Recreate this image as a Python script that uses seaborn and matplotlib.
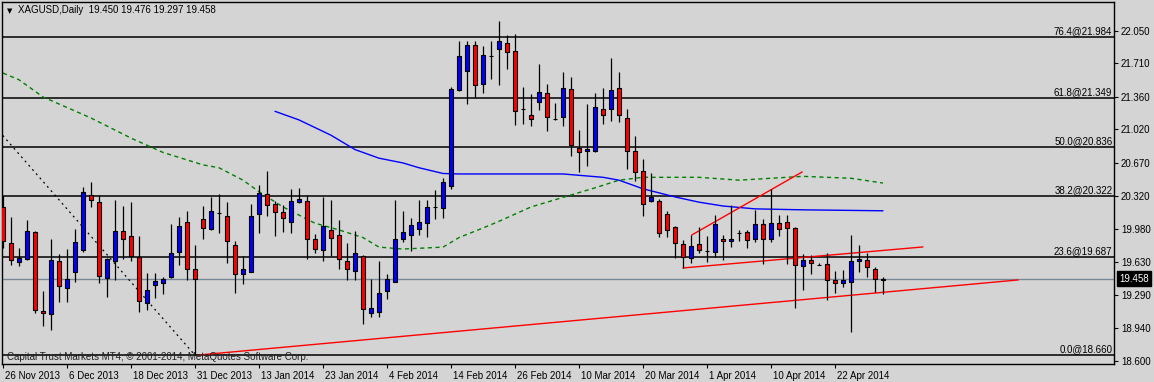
import numpy as np
import pandas as pd
import matplotlib
matplotlib.use("Agg")
import matplotlib.pyplot as plt
import matplotlib.transforms as mtransforms
import seaborn as sns

''' Data read off the chart (XAGUSD daily, one row per bar) '''
opens = [20.21, 19.83, 19.63, 19.67, 19.95, 19.12, 19.09, 19.65, 19.36, 19.53,
         19.76, 20.34, 20.26, 19.47, 19.64, 19.96, 19.91, 19.69, 19.21, 19.39,
         19.42, 19.48, 19.74, 20.05, 19.56, 20.08, 19.98, 20.15, 20.12, 19.81,
         19.51, 19.53, 20.14, 20.35, 20.24, 20.16, 20.05, 20.26, 20.27, 19.87,
         19.76, 19.97, 19.92, 19.65, 19.54, 19.70, 19.10, 19.11, 19.33, 19.43,
         19.88, 19.92, 19.98, 20.04, 20.21, 20.20, 20.43, 21.43, 21.63, 21.90,
         21.50, 21.79, 21.86, 21.92, 21.84, 21.23, 21.17, 21.31, 21.40, 21.13,
         21.15, 21.44, 20.83, 20.79, 20.80, 21.23, 21.23, 21.45, 21.14, 20.80,
         20.59, 20.27, 20.27, 20.14, 20.00, 19.82, 19.68, 19.82, 19.75, 19.74,
         19.88, 19.85, 19.94, 19.95, 19.87, 20.03, 19.88, 20.04, 20.05, 19.99,
         19.59, 19.66, 19.60, 19.61, 19.45, 19.41, 19.43, 19.65, 19.66, 19.56,
         19.450]
highs = [20.32, 20.11, 19.78, 20.07, 19.96, 19.33, 19.88, 19.72, 19.77, 19.98,
         20.42, 20.47, 20.34, 19.68, 20.28, 20.22, 20.26, 19.91, 19.52, 19.52,
         19.48, 20.03, 20.11, 20.17, 19.81, 20.22, 20.31, 20.35, 20.26, 19.85,
         19.70, 20.24, 20.44, 20.59, 20.27, 20.23, 20.40, 20.41, 20.33, 19.93,
         20.31, 20.28, 20.07, 19.83, 19.96, 19.71, 19.46, 19.64, 19.51, 20.28,
         20.17, 20.09, 20.28, 20.28, 20.39, 20.51, 21.46, 21.95, 21.95, 21.95,
         21.89, 21.94, 22.15, 22.01, 22.02, 21.46, 21.39, 21.70, 21.50, 21.30,
         21.62, 21.57, 21.01, 21.29, 21.40, 21.45, 21.77, 21.62, 21.23, 20.95,
         20.71, 20.57, 20.29, 20.17, 20.01, 19.86, 19.92, 20.00, 19.91, 20.13,
         19.92, 20.23, 19.97, 19.97, 20.18, 20.08, 20.40, 20.13, 20.13, 20.00,
         19.72, 19.71, 19.62, 19.73, 19.54, 19.55, 19.92, 19.81, 19.73, 19.58,
         19.476]
lows = [19.78, 19.60, 19.59, 19.66, 19.10, 18.97, 18.92, 19.22, 19.22, 19.43,
        19.74, 20.21, 19.41, 19.27, 19.45, 19.67, 19.65, 19.11, 19.13, 19.26,
        19.30, 19.47, 19.60, 19.45, 18.66, 19.87, 19.97, 19.94, 19.62, 19.31,
        19.40, 19.53, 19.94, 20.12, 19.91, 19.95, 19.94, 20.25, 19.67, 19.73,
        19.64, 19.70, 19.56, 19.45, 19.45, 18.99, 19.06, 19.06, 19.25, 19.43,
        19.84, 19.75, 19.92, 19.90, 20.08, 20.09, 20.40, 21.42, 21.29, 21.35,
        21.40, 21.55, 21.49, 21.65, 21.07, 21.08, 21.06, 21.22, 21.00, 21.12,
        21.06, 20.74, 20.58, 20.64, 20.78, 21.08, 21.11, 21.10, 20.61, 20.48,
        20.12, 20.26, 19.90, 19.90, 19.68, 19.57, 19.62, 19.73, 19.63, 19.69,
        19.66, 19.79, 19.85, 19.78, 19.84, 19.61, 19.84, 19.91, 19.61, 19.15,
        19.34, 19.51, 19.60, 19.24, 19.31, 19.37, 18.90, 19.53, 19.48, 19.32,
        19.297]
closes = [19.85, 19.66, 19.68, 19.96, 19.13, 19.10, 19.66, 19.38, 19.46, 19.84,
          20.37, 20.28, 19.49, 19.67, 19.96, 19.88, 19.70, 19.23, 19.34, 19.44,
          19.46, 19.73, 20.01, 19.56, 19.46, 19.99, 20.17, 20.15, 19.85, 19.51,
          19.56, 20.12, 20.36, 20.23, 20.16, 20.09, 20.27, 20.29, 19.87, 19.77,
          20.01, 19.89, 19.67, 19.56, 19.73, 19.14, 19.15, 19.31, 19.46, 19.87,
          19.95, 20.02, 20.05, 20.21, 20.21, 20.47, 21.44, 21.79, 21.90, 21.49,
          21.80, 21.79, 21.94, 21.83, 21.21, 21.23, 21.13, 21.41, 21.15, 21.13,
          21.45, 20.86, 20.78, 20.82, 21.26, 21.17, 21.43, 21.17, 20.80, 20.58,
          20.24, 20.31, 19.94, 19.97, 19.83, 19.69, 19.80, 19.76, 19.75, 20.03,
          19.85, 19.88, 19.94, 19.86, 20.03, 19.88, 20.04, 19.98, 19.99, 19.60,
          19.66, 19.62, 19.60, 19.45, 19.41, 19.45, 19.65, 19.67, 19.58, 19.46,
          19.458]

date_labels = ["26 Nov 2013", "6 Dec 2013", "18 Dec 2013", "31 Dec 2013",
               "13 Jan 2014", "23 Jan 2014", "4 Feb 2014", "14 Feb 2014",
               "26 Feb 2014", "10 Mar 2014", "20 Mar 2014", "1 Apr 2014",
               "10 Apr 2014", "22 Apr 2014"]
price_ticks = [18.600, 18.940, 19.290, 19.630, 19.980, 20.320,
               20.670, 21.020, 21.360, 21.710, 22.050]

fib_names = ["0.0", "23.6", "38.2", "50.0", "61.8", "76.4"]
fib_levels = [18.660, 19.687, 20.322, 20.836, 21.349, 21.984]

# moving averages (bar index, value)
ma_slow_idx = [0, 2, 5, 11, 16, 20, 25, 27, 30, 32, 35, 39, 42, 45, 47, 50,
               55, 57, 60, 62, 66, 70, 74, 77, 80, 87, 92, 100, 106, 110]
ma_slow_val = [21.61, 21.54, 21.36, 21.14, 20.93, 20.78, 20.65, 20.62, 20.49,
               20.37, 20.21, 20.04, 19.97, 19.89, 19.79, 19.77, 19.79, 19.89,
               19.99, 20.06, 20.21, 20.31, 20.41, 20.49, 20.52, 20.52, 20.49,
               20.53, 20.51, 20.46]
ma_fast_idx = [34, 37, 41, 44, 47, 50, 52, 55, 57, 62, 70, 75, 77, 80, 84,
               87, 90, 94, 100, 110]
ma_fast_val = [21.21, 21.12, 20.96, 20.81, 20.72, 20.67, 20.62, 20.56, 20.555,
               20.555, 20.555, 20.52, 20.49, 20.40, 20.315, 20.26, 20.22, 20.19,
               20.18, 20.17]

# hand drawn trend lines (bar index pairs, price pairs)
trend_down_x, trend_down_y = [-1, 24], [21.05, 18.66]
trend_base_x, trend_base_y = [24.6, 126.9], [18.663, 19.447]
trend_mid_x, trend_mid_y = [85, 115], [19.572, 19.792]
trend_up_x, trend_up_y = [86.1, 99.9], [19.917, 20.576]

''' Plot '''
sns.set_style("ticks")
plt.rcParams['font.family'] = ['Liberation Sans', 'DejaVu Sans']
bg = "#d4d4d4"

df = pd.DataFrame({"o": opens, "h": highs, "l": lows, "c": closes})
df["x"] = np.arange(len(df))
df["up"] = df["c"] >= df["o"]

fig = plt.figure(figsize=(11.54, 3.82), dpi=100, facecolor=bg)
ax = fig.add_axes([2 / 1154, 18 / 382, 1112 / 1154, 362 / 382])
ax.set_facecolor(bg)

# fibonacci levels
for name, lvl in zip(fib_names, fib_levels):
    ax.axhline(lvl, color="black", lw=1.1, zorder=1)
    ax.text(0.9985, lvl + 0.012, f"{name}@{lvl:.3f}", transform=ax.get_yaxis_transform(),
            ha="right", va="bottom", fontsize=7, color="black")

# current price line
ax.axhline(closes[-1], color="#778899", lw=1.0, zorder=1)

# moving averages
sns.lineplot(x=ma_slow_idx, y=ma_slow_val, ax=ax, color="#008000", lw=1,
             linestyle=(0, (3, 2.5)), sort=False, estimator=None, zorder=2)
sns.lineplot(x=ma_fast_idx, y=ma_fast_val, ax=ax, color="#0000ff", lw=1,
             sort=False, estimator=None, zorder=2)

# trend lines
ax.plot(trend_down_x, trend_down_y, color="black", lw=0.9, linestyle=(0, (1.5, 3)), zorder=2)
for tx, ty in [(trend_base_x, trend_base_y), (trend_mid_x, trend_mid_y), (trend_up_x, trend_up_y)]:
    ax.plot(tx, ty, color="#ff0000", lw=1.0, zorder=2)

# candles
ax.vlines(df["x"], df["l"], df["h"], color="black", lw=0.9, zorder=3)
body_lo = df[["o", "c"]].min(axis=1)
body_h = (df["c"] - df["o"]).abs()
ax.bar(df["x"], body_h, bottom=body_lo, width=0.55,
       color=np.where(df["up"], "#0000ff", "#ff0000"),
       edgecolor="black", linewidth=0.8, zorder=4)

ax.set_xlim(-0.125, 138.875)
ax.set_ylim(18.568, 22.353)

# axes styling
for s in ax.spines.values():
    s.set_color("black")
    s.set_linewidth(1.0)
ax.yaxis.tick_right()
ax.set_yticks(price_ticks)
ax.set_yticklabels([f"{p:.3f}" for p in price_ticks])
ax.set_xticks(np.arange(len(date_labels)) * 8)
ax.set_xticklabels(date_labels, ha="left")
ax.tick_params(axis="both", direction="out", length=3, width=0.8, color="black",
               labelsize=7, labelcolor="black", pad=2)
off = mtransforms.ScaledTranslation(2 / 100, 0, fig.dpi_scale_trans)
for lbl in ax.get_xticklabels():
    lbl.set_transform(lbl.get_transform() + off)
ax.set_xlabel("")
ax.set_ylabel("")

# current price box
ax.text(1.0, closes[-1], f"{closes[-1]:.3f}", transform=ax.get_yaxis_transform(),
        ha="left", va="center", fontsize=7, color="white",
        bbox=dict(boxstyle="square,pad=0.25", fc="black", ec="black"))
for t in ax.texts[-1:]:
    t.set_transform(t.get_transform() + mtransforms.ScaledTranslation(5 / 100, 0, fig.dpi_scale_trans))

# header and footer texts
fig.text(7 / 1154, 1 - 11 / 382, "\u25bc", fontsize=5, va="center", ha="left", color="black",
         family=["DejaVu Sans"])
fig.text(18 / 1154, 1 - 10 / 382, "XAGUSD,Daily  19.450 19.476 19.297 19.458",
         fontsize=7, va="center", ha="left", color="black")
fig.text(7 / 1154, 1 - 357 / 382, "Capital Trust Markets MT4, \u00a9 2001-2014, MetaQuotes Software Corp.",
         fontsize=7, va="center", ha="left", color="#202020")

fig.savefig("out.png", dpi=100, facecolor=bg)
